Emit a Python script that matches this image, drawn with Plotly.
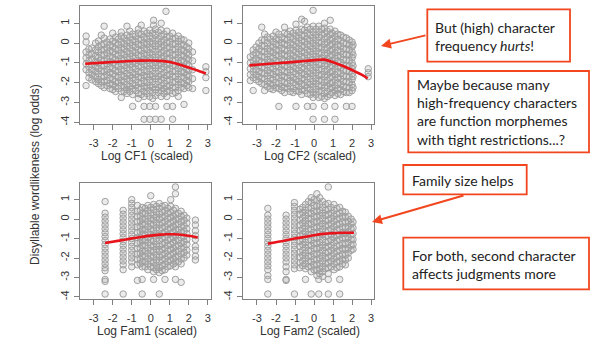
import plotly.graph_objects as go

W, H = 596, 341

# ---------------- data ----------------
# Each panel: x positions of columns of points and the y values in each column
cf1_cols = [-3.4, -3.1, -2.75, -2.45, -2.15, -1.85, -1.55, -1.25, -0.95, -0.65, -0.35, -0.05, 0.15,
            0.25, 0.55, 0.8, 0.85, 1.15, 1.45, 1.75, 2.0, 2.2, 2.9]
cf1_ys = [
    [0.35, 0.05, -0.45, -0.75, -1.05, -1.35, -2.15],
    [-0.25, -0.55, -0.8, -1.1, -1.35, -1.6, -1.85],
    [0.1, -0.2, -0.45, -0.75, -1.0, -1.3, -1.55, -1.85, -2.05],
    [0.85, 0.25, -0.05, -0.35, -0.6, -0.9, -1.15, -1.45, -1.7, -1.95, -2.25],
    [0.2, -0.1, -0.4, -0.65, -0.95, -1.2, -1.5, -1.75, -2.05, -2.3],
    [0.3, 0.0, -0.3, -0.55, -0.85, -1.1, -1.4, -1.65, -1.95, -2.2, -2.45],
    [0.55, 0.35, 0.05, -0.25, -0.5, -0.8, -1.05, -1.35, -1.6, -1.9, -2.15, -2.45, -2.75],
    [0.85, 0.4, 0.1, -0.15, -0.45, -0.7, -1.0, -1.25, -1.55, -1.8, -2.1, -2.35, -2.55],
    [0.45, 0.15, -0.1, -0.4, -0.65, -0.95, -1.2, -1.5, -1.75, -2.05, -2.3, -2.6, -3.2],
    [0.7, 0.5, 0.2, -0.05, -0.35, -0.6, -0.9, -1.15, -1.45, -1.7, -2.0, -2.25, -2.55, -2.8],
    [0.6, 0.3, 0.0, -0.25, -0.55, -0.8, -1.1, -1.35, -1.65, -1.9, -2.2, -2.45, -2.7, -3.2, -3.85],
    [0.65, 0.35, 0.05, -0.2, -0.5, -0.75, -1.05, -1.3, -1.6, -1.85, -2.15, -2.4, -2.7, -3.2, -3.85],
    [1.15, 0.9],
    [0.7, 0.4, 0.1, -0.15, -0.45, -0.7, -1.0, -1.25, -1.55, -1.8, -2.1, -2.35, -2.65, -3.2, -3.85],
    [1.0, 0.65, 0.35, 0.05, -0.2, -0.5, -0.75, -1.05, -1.3, -1.6, -1.85, -2.15, -2.4, -2.7, -3.85],
    [1.6],
    [0.6, 0.3, 0.0, -0.25, -0.55, -0.8, -1.1, -1.35, -1.65, -1.9, -2.2, -2.45, -2.7, -3.2],
    [0.5, 0.2, -0.05, -0.35, -0.6, -0.9, -1.15, -1.45, -1.7, -2.0, -2.25, -2.55, -3.2, -3.85],
    [0.35, 0.1, -0.2, -0.45, -0.75, -1.0, -1.3, -1.55, -1.85, -2.1, -2.4, -2.7],
    [0.15, -0.1, -0.4, -0.65, -0.95, -1.2, -1.5, -1.75, -2.05, -2.3, -3.1],
    [0.0, -0.3, -0.6, -0.85, -1.15, -1.4, -1.7, -1.95, -2.25],
    [-0.45, -0.9, -1.35, -1.8, -2.3],
    [-1.2, -1.45, -1.75, -2.4],
]
cf1_cols_b = [-3.25, -2.9, -2.6, -2.3, -2.0, -1.7, -1.4, -1.1, -0.8, -0.5, -0.2, 0.1, 0.4, 0.7, 1.0, 1.3, 1.6, 1.9]
cf1_ys_b = [
    [-0.3, -0.6, -0.9, -1.2, -1.5, -1.75],
    [0.0, -0.35, -0.65, -0.95, -1.2, -1.45, -1.7, -1.95],
    [0.4, -0.1, -0.35, -0.6, -0.85, -1.15, -1.4, -1.7, -1.95, -2.15],
    [0.05, -0.25, -0.5, -0.8, -1.05, -1.35, -1.6, -1.9, -2.15],
    [0.5, 0.1, -0.2, -0.45, -0.75, -1.0, -1.3, -1.55, -1.85, -2.1, -2.35],
    [0.2, -0.1, -0.35, -0.65, -0.9, -1.2, -1.45, -1.75, -2.0, -2.3],
    [0.25, -0.05, -0.3, -0.6, -0.85, -1.15, -1.4, -1.7, -1.95, -2.25, -2.45],
    [0.6, 0.3, 0.0, -0.25, -0.55, -0.8, -1.1, -1.35, -1.65, -1.9, -2.2, -2.45],
    [0.35, 0.05, -0.2, -0.5, -0.75, -1.05, -1.3, -1.6, -1.85, -2.15, -2.4],
    [0.9, 0.45, 0.15, -0.1, -0.4, -0.65, -0.95, -1.2, -1.5, -1.75, -2.05, -2.3, -2.6],
    [0.5, 0.2, -0.05, -0.35, -0.6, -0.9, -1.15, -1.45, -1.7, -2.0, -2.25, -2.55],
    [0.5, 0.25, -0.05, -0.3, -0.6, -0.85, -1.15, -1.4, -1.7, -1.95, -2.25, -2.5, -2.8],
    [0.55, 0.2, -0.05, -0.3, -0.6, -0.85, -1.15, -1.4, -1.7, -1.95, -2.25, -2.5],
    [0.45, 0.15, -0.1, -0.4, -0.65, -0.95, -1.2, -1.5, -1.75, -2.05, -2.3, -2.55],
    [0.35, 0.05, -0.2, -0.5, -0.75, -1.05, -1.3, -1.6, -1.85, -2.15, -2.4],
    [0.25, -0.05, -0.3, -0.6, -0.85, -1.15, -1.4, -1.7, -1.95, -2.25, -2.5],
    [0.2, -0.05, -0.35, -0.6, -0.9, -1.15, -1.45, -1.7, -2.0, -2.25],
    [-0.2, -0.5, -0.8, -1.05, -1.35, -1.6, -1.9, -2.15],
]

cf2_cols = [-3.35, -3.2, -3.05, -2.75, -2.6, -2.45, -2.15, -1.85, -1.55, -1.25, -0.95, -0.65, -0.35,
            -0.05, 0.25, 0.55, 0.85, 1.1, 1.4, 1.7, 2.0, 2.85]
cf2_ys = [
    [-0.7, -1.0, -1.3, -1.6, -1.9],
    [-0.35, -2.4],
    [-0.2, -0.5, -0.8, -1.05, -1.35, -1.6, -1.85],
    [0.8, 0.15, -0.15, -0.4, -0.7, -0.95, -1.25, -1.5, -1.8, -2.05],
    [-2.4],
    [0.3, 0.0, -0.3, -0.55, -0.85, -1.1, -1.4, -1.65, -1.95, -2.2],
    [0.35, 0.05, -0.2, -0.5, -0.75, -1.05, -1.3, -1.6, -1.85, -2.15, -2.35],
    [0.45, 0.15, -0.1, -0.4, -0.65, -0.95, -1.2, -1.5, -1.75, -2.05, -2.3, -3.2],
    [0.8, 0.5, 0.2, -0.05, -0.35, -0.6, -0.9, -1.15, -1.45, -1.7, -2.0, -2.25, -2.5],
    [0.6, 0.3, 0.0, -0.25, -0.55, -0.8, -1.1, -1.35, -1.65, -1.9, -2.2, -2.45],
    [0.95, 0.65, 0.35, 0.1, -0.2, -0.45, -0.75, -1.0, -1.3, -1.55, -1.85, -2.1, -2.4, -3.2],
    [1.2, 0.7, 0.4, 0.15, -0.15, -0.4, -0.7, -0.95, -1.25, -1.5, -1.8, -2.05, -2.35, -2.6],
    [0.8, 0.5, 0.2, -0.05, -0.35, -0.6, -0.9, -1.15, -1.45, -1.7, -2.0, -2.25, -2.55, -3.2],
    [1.65, 0.85, 0.55, 0.25, 0.0, -0.3, -0.55, -0.85, -1.1, -1.4, -1.65, -1.95, -2.2, -2.5, -2.75, -3.2, -3.85],
    [0.85, 0.55, 0.3, 0.0, -0.25, -0.55, -0.8, -1.1, -1.35, -1.65, -1.9, -2.2, -2.45, -2.75],
    [1.0, 0.75, 0.5, 0.2, -0.05, -0.35, -0.6, -0.9, -1.15, -1.45, -1.7, -2.0, -2.25, -2.55, -2.8, -3.2, -3.85],
    [1.15, 0.7, 0.45, 0.15, -0.1, -0.4, -0.65, -0.95, -1.2, -1.5, -1.75, -2.05, -2.3, -2.6],
    [0.6, 0.35, 0.05, -0.2, -0.5, -0.75, -1.05, -1.3, -1.6, -1.85, -2.15, -2.4, -2.65, -3.2, -3.85],
    [0.4, 0.1, -0.15, -0.45, -0.7, -1.0, -1.25, -1.55, -1.8, -2.1, -2.35, -2.6],
    [0.25, -0.05, -0.3, -0.6, -0.85, -1.15, -1.4, -1.7, -1.95, -2.25, -2.5, -3.2],
    [0.05, -0.2, -0.45, -0.75, -1.0, -1.3, -1.55, -1.85, -2.1, -2.4, -3.2],
    [-1.3, -1.5, -1.7],
]
cf2_cols_b = [-3.2, -2.9, -2.6, -2.3, -2.0, -1.7, -1.4, -1.1, -0.8, -0.5, -0.2, 0.1, 0.4, 0.7, 0.95, 1.25, 1.55, 1.85, 2.05]
cf2_ys_b = [
    [-0.6, -0.9, -1.15, -1.45, -1.75],
    [0.0, -0.3, -0.6, -0.9, -1.15, -1.45, -1.7, -1.95],
    [0.45, 0.15, -0.15, -0.45, -0.7, -1.0, -1.25, -1.55, -1.8, -2.1],
    [0.2, -0.15, -0.4, -0.7, -0.95, -1.25, -1.5, -1.8, -2.05, -2.3],
    [0.55, 0.2, -0.05, -0.35, -0.6, -0.9, -1.15, -1.45, -1.7, -2.0, -2.25],
    [0.3, 0.0, -0.25, -0.55, -0.8, -1.1, -1.35, -1.65, -1.9, -2.2, -2.4],
    [0.45, 0.15, -0.1, -0.4, -0.65, -0.95, -1.2, -1.5, -1.75, -2.05, -2.3],
    [0.5, 0.2, -0.1, -0.35, -0.65, -0.9, -1.2, -1.45, -1.75, -2.0, -2.3, -2.5],
    [0.55, 0.25, 0.0, -0.3, -0.55, -0.85, -1.1, -1.4, -1.65, -1.95, -2.2, -2.45],
    [1.1, 0.65, 0.35, 0.05, -0.2, -0.5, -0.75, -1.05, -1.3, -1.6, -1.85, -2.15, -2.4],
    [0.7, 0.4, 0.1, -0.15, -0.45, -0.7, -1.0, -1.25, -1.55, -1.8, -2.1, -2.35, -2.6],
    [0.7, 0.4, 0.15, -0.15, -0.4, -0.7, -0.95, -1.25, -1.5, -1.8, -2.05, -2.35, -2.6],
    [0.7, 0.4, 0.05, -0.2, -0.5, -0.75, -1.05, -1.3, -1.6, -1.85, -2.15, -2.4, -2.7],
    [0.6, 0.3, 0.05, -0.25, -0.5, -0.8, -1.05, -1.35, -1.6, -1.9, -2.15, -2.45, -2.7],
    [0.5, 0.2, -0.05, -0.35, -0.6, -0.9, -1.15, -1.45, -1.7, -2.0, -2.25, -2.5],
    [0.45, 0.2, -0.1, -0.35, -0.65, -0.9, -1.2, -1.45, -1.75, -2.0, -2.3, -2.55],
    [0.3, 0.0, -0.3, -0.55, -0.85, -1.1, -1.4, -1.65, -1.95, -2.2, -2.45],
    [0.15, -0.1, -0.35, -0.6, -0.9, -1.15, -1.45, -1.7, -2.0, -2.25, -2.5],
    [-0.1, -0.6, -1.15, -1.7, -2.25],
]

fam1_cols = [-2.4, -1.45, -1.0, -0.7, -0.45, -0.15, 0.0, 0.15, 0.45, 0.75, 1.05, 1.3, 1.6, 1.9, 2.35]
fam1_ys = [
    [0.9, 0.3, 0.1, -0.1, -0.3, -0.5, -0.7, -0.9, -1.1, -1.3, -1.5, -1.7, -1.9, -2.1, -2.3, -2.5, -2.65, -3.1, -3.2, -3.85],
    [0.45, 0.25, 0.05, -0.15, -0.35, -0.55, -0.75, -0.95, -1.15, -1.35, -1.55, -1.75, -1.95, -2.15, -2.35, -2.6, -3.85],
    [1.0, 0.8, 0.6, 0.4, 0.2, 0.0, -0.2, -0.4, -0.6, -0.8, -1.0, -1.2, -1.4, -1.6, -1.8, -2.0, -2.2, -2.45],
    [0.7, 0.4, 0.15, -0.15, -0.4, -0.7, -0.95, -1.25, -1.5, -1.8, -2.05, -2.35, -3.15],
    [0.6, 0.3, 0.0, -0.25, -0.55, -0.8, -1.1, -1.35, -1.65, -1.9, -2.2, -2.45, -3.1, -3.85],
    [0.7, 0.45, 0.15, -0.1, -0.4, -0.65, -0.95, -1.2, -1.5, -1.75, -2.05, -2.3, -2.6],
    [1.2, 0.6, 0.3, 0.05, -0.25, -0.5, -0.8, -1.05, -1.35, -1.6, -1.9, -2.15, -2.45],
    [0.75, 0.5, 0.2, -0.05, -0.3, -0.6, -0.85, -1.15, -1.4, -1.7, -1.95, -2.25, -2.5, -2.7, -3.1],
    [0.8, 0.55, 0.25, 0.0, -0.3, -0.55, -0.85, -1.1, -1.4, -1.65, -1.95, -2.2, -2.5, -2.75, -3.85],
    [0.7, 0.45, 0.15, -0.1, -0.4, -0.65, -0.95, -1.2, -1.5, -1.75, -2.05, -2.3, -2.6, -3.1],
    [1.0, 0.65, 0.35, 0.1, -0.2, -0.45, -0.75, -1.0, -1.3, -1.55, -1.85, -2.1, -2.4],
    [1.65, 1.3, 0.55, 0.25, 0.0, -0.3, -0.55, -0.85, -1.1, -1.4, -1.65, -1.95, -2.2, -2.45, -3.1],
    [0.4, 0.15, -0.15, -0.4, -0.7, -0.95, -1.25, -1.5, -1.8, -2.05, -2.3, -3.25],
    [0.05, -0.2, -0.5, -0.75, -1.05, -1.3, -1.6, -1.85],
    [-0.05, -0.3, -0.6, -0.85, -1.05, -1.4, -1.6, -1.9, -2.1],
]
fam1_cols_b = [-0.55, -0.3, 0.3, 0.6, 0.9, 1.2, 1.45, 1.75]
fam1_ys_b = [
    [0.45, 0.15, -0.1, -0.4, -0.65, -0.95, -1.2, -1.5, -1.75, -2.05, -2.3],
    [0.55, 0.3, 0.0, -0.25, -0.55, -0.8, -1.1, -1.35, -1.65, -1.9, -2.2, -2.45],
    [0.65, 0.35, 0.1, -0.2, -0.45, -0.75, -1.0, -1.3, -1.55, -1.85, -2.1, -2.4, -2.6],
    [0.65, 0.35, 0.1, -0.2, -0.45, -0.75, -1.0, -1.3, -1.55, -1.85, -2.1, -2.4, -2.65],
    [0.55, 0.3, 0.0, -0.25, -0.55, -0.8, -1.1, -1.35, -1.65, -1.9, -2.2, -2.45],
    [0.45, 0.15, -0.1, -0.4, -0.65, -0.95, -1.2, -1.5, -1.75, -2.05, -2.3],
    [0.3, 0.0, -0.25, -0.55, -0.8, -1.1, -1.35, -1.65, -1.9, -2.2],
    [0.2, -0.05, -0.35, -0.6, -0.9, -1.15, -1.45, -1.7, -2.0],
]

fam2_cols = [-2.43, -1.47, -1.03, -0.75, -0.45, -0.15, 0.15, 0.25, 0.45, 0.75, 1.05, 1.35, 1.65, 1.95]
fam2_ys = [
    [0.55, 0.2, 0.0, -0.2, -0.4, -0.6, -0.8, -1.0, -1.2, -1.4, -1.6, -1.8, -2.0, -2.2, -2.4, -2.6, -2.9, -3.1, -3.85],
    [0.2, 0.0, -0.2, -0.4, -0.6, -0.8, -1.0, -1.2, -1.4, -1.6, -1.8, -2.0, -2.2, -2.45, -2.7, -3.1, -3.15],
    [0.85, 0.65, 0.45, 0.25, 0.05, -0.15, -0.35, -0.55, -0.75, -0.95, -1.15, -1.35, -1.55, -1.75, -1.95, -2.15, -2.35, -2.55, -3.85],
    [0.5, 0.25, -0.05, -0.3, -0.6, -0.85, -1.15, -1.4, -1.7, -1.95, -2.25, -2.5],
    [0.75, 0.45, 0.2, -0.1, -0.35, -0.65, -0.9, -1.2, -1.45, -1.75, -2.0, -2.3, -2.55, -3.1],
    [1.1, 0.85, 0.55, 0.3, 0.0, -0.25, -0.55, -0.8, -1.1, -1.35, -1.65, -1.9, -2.2, -2.45, -2.7, -3.85],
    [1.3, 0.95, 0.65, 0.4, 0.1, -0.15, -0.45, -0.7, -1.0, -1.25, -1.55, -1.8, -2.1, -2.35, -2.65, -2.9],
    [-3.1, -3.85],
    [0.9, 0.6, 0.3, 0.05, -0.25, -0.5, -0.8, -1.05, -1.35, -1.6, -1.9, -2.15, -2.45, -2.7, -2.95],
    [1.65, 0.8, 0.5, 0.25, -0.05, -0.3, -0.6, -0.85, -1.15, -1.4, -1.7, -1.95, -2.25, -2.5, -2.8, -3.1, -3.85],
    [0.75, 0.45, 0.15, -0.1, -0.4, -0.65, -0.95, -1.2, -1.5, -1.75, -2.05, -2.3, -2.6],
    [0.6, 0.3, 0.05, -0.25, -0.5, -0.8, -1.05, -1.35, -1.6, -1.9, -2.15, -2.45, -3.1, -3.85],
    [0.35, 0.1, -0.2, -0.45, -0.75, -1.0, -1.3, -1.55, -1.85, -2.1, -2.35],
    [0.0, -0.25, -0.5, -0.8, -1.05, -1.35, -1.6],
]
fam2_cols_b = [-0.6, -0.3, 0.0, 0.3, 0.6, 0.9, 1.2, 1.5, 1.8, 2.05]
fam2_ys_b = [
    [0.6, 0.35, 0.05, -0.2, -0.5, -0.75, -1.05, -1.3, -1.6, -1.85, -2.15, -2.4],
    [0.9, 0.6, 0.3, 0.05, -0.25, -0.5, -0.8, -1.05, -1.35, -1.6, -1.9, -2.15, -2.45],
    [1.0, 0.7, 0.4, 0.15, -0.15, -0.4, -0.7, -0.95, -1.25, -1.5, -1.8, -2.05, -2.35, -2.6],
    [1.1, 0.75, 0.45, 0.2, -0.1, -0.35, -0.65, -0.9, -1.2, -1.45, -1.75, -2.0, -2.3, -2.55, -2.8],
    [0.75, 0.45, 0.2, -0.1, -0.35, -0.65, -0.9, -1.2, -1.45, -1.75, -2.0, -2.3, -2.55],
    [0.6, 0.3, 0.05, -0.25, -0.5, -0.8, -1.05, -1.35, -1.6, -1.9, -2.15, -2.45],
    [0.55, 0.25, 0.0, -0.3, -0.55, -0.85, -1.1, -1.4, -1.65, -1.95, -2.2, -2.5],
    [0.4, 0.15, -0.15, -0.4, -0.7, -0.95, -1.25, -1.5, -1.8, -2.05, -2.3],
    [0.15, -0.1, -0.4, -0.65, -0.95, -1.2, -1.5, -1.75, -2.0],
    [-0.15, -0.45, -0.75, -1.05, -1.3, -1.55],
]

# smoothed (loess) curves
cf1_fit_x = [-3.45, -2.5, -1.5, -0.5, 0.0, 0.5, 1.0, 1.5, 2.0, 2.5, 2.9]
cf1_fit_y = [-1.05, -0.99, -0.93, -0.89, -0.88, -0.9, -0.96, -1.08, -1.24, -1.4, -1.54]
cf2_fit_x = [-3.4, -2.5, -1.5, -0.5, 0.2, 0.55, 1.0, 1.5, 2.0, 2.5, 2.82]
cf2_fit_y = [-1.13, -1.06, -0.99, -0.91, -0.85, -0.84, -0.97, -1.15, -1.36, -1.6, -1.79]
fam1_fit_x = [-2.4, -1.5, -1.0, -0.5, 0.0, 0.5, 0.8, 1.2, 1.6, 2.0, 2.47]
fam1_fit_y = [-1.23, -1.08, -0.99, -0.92, -0.85, -0.8, -0.78, -0.78, -0.8, -0.86, -0.95]
fam2_fit_x = [-2.43, -1.5, -1.0, -0.5, 0.0, 0.5, 1.0, 1.5, 2.1]
fam2_fit_y = [-1.26, -1.1, -1.0, -0.92, -0.83, -0.76, -0.72, -0.7, -0.7]

x_titles = ["Log CF1 (scaled)", "Log CF2 (scaled)", "Log Fam1 (scaled)", "Log Fam2 (scaled)"]
y_title = "Disyllable wordlikeness (log odds)"
x_ticks = [-3, -2, -1, 0, 1, 2, 3]
y_ticks = [-4, -3, -2, -1, 0, 1]

notes = [
    "But (high) character<br>frequency <i>hurts</i>!",
    "Maybe because many<br>high-frequency characters<br>are function morphemes<br>with tight restrictions...?",
    "Family size helps",
    "For both, second character<br>affects judgments more",
]

# ---------------- figure ----------------
def px(x):
    return x / W

def py(y):
    return 1 - y / H

panels = [
    (cf1_cols + cf1_cols_b, cf1_ys + cf1_ys_b, cf1_fit_x, cf1_fit_y),
    (cf2_cols + cf2_cols_b, cf2_ys + cf2_ys_b, cf2_fit_x, cf2_fit_y),
    (fam1_cols + fam1_cols_b, fam1_ys + fam1_ys_b, fam1_fit_x, fam1_fit_y),
    (fam2_cols + fam2_cols_b, fam2_ys + fam2_ys_b, fam2_fit_x, fam2_fit_y),
]
# pixel boxes: (left, right, top, bottom)
boxes = [(80, 211, 6, 124), (243.3, 374.3, 6, 124), (80, 211, 182.7, 298.7), (243.3, 374.3, 182.7, 298.7)]

GRAY = "#a0a0a0"
FILL = "rgba(165,165,165,0.22)"
RED = "#e8141c"
ORANGE = "#f2461f"
AXC = "#808080"
TXT = "#333333"

fig = go.Figure()
layout = dict(
    width=W, height=H,
    margin=dict(l=0, r=0, t=0, b=0),
    paper_bgcolor="white", plot_bgcolor="white",
    showlegend=False,
)

annotations = []
shapes = []
for i, (cols, ys, fx, fy) in enumerate(panels):
    n = "" if i == 0 else str(i + 1)
    xs, yv = [], []
    for c, col in zip(cols, ys):
        for v in col:
            xs.append(c)
            yv.append(v)
    fig.add_trace(go.Scatter(
        x=xs, y=yv, mode="markers", xaxis="x" + n, yaxis="y" + n,
        marker=dict(symbol="circle", size=6.5, color=FILL, line=dict(width=1, color=GRAY)),
        hoverinfo="skip"))
    fig.add_trace(go.Scatter(
        x=fx, y=fy, mode="lines", xaxis="x" + n, yaxis="y" + n,
        line=dict(color=RED, width=2.6, shape="spline", smoothing=0.6), hoverinfo="skip"))
    l, r, t, b = boxes[i]
    layout["xaxis" + n] = dict(
        domain=[px(l), px(r)], anchor="y" + n, range=[-3.72, 3.17],
        tickvals=x_ticks, ticktext=[str(v) for v in x_ticks],
        showline=True, mirror=True, linecolor=AXC, linewidth=1,
        ticks="outside", ticklen=5, tickcolor=AXC, tickwidth=1,
        showgrid=False, zeroline=False, ticklabelstandoff=4,
        tickfont=dict(family="Liberation Sans, Arial", size=11, color=TXT))
    layout["yaxis" + n] = dict(
        domain=[py(b), py(t)], anchor="x" + n, range=[-4.09, 1.87],
        tickvals=y_ticks, ticktext=[str(v) for v in y_ticks], tickangle=-90,
        showline=True, mirror=True, linecolor=AXC, linewidth=1,
        ticks="outside", ticklen=5, tickcolor=AXC, tickwidth=1,
        showgrid=False, zeroline=False, ticklabelstandoff=1,
        tickfont=dict(family="Liberation Sans, Arial", size=11, color=TXT))
    annotations.append(dict(
        text=x_titles[i], x=px((l + r) / 2 + 1), y=py(b + 32), xref="paper", yref="paper",
        xanchor="center", yanchor="middle", showarrow=False,
        font=dict(family="Liberation Sans, Arial", size=12, color=TXT)))

annotations.append(dict(
    text=y_title, x=px(35), y=py(175), xref="paper", yref="paper", textangle=-90,
    xanchor="center", yanchor="middle", showarrow=False,
    font=dict(family="Liberation Sans, Arial", size=12, color=TXT)))

# note boxes: (left, right, top, bottom) and text anchor (x, y)
note_boxes = [(427.3, 570, 9.3, 61.7), (408.3, 589, 71, 152.3), (403.3, 526.7, 165, 194.3), (403.3, 589, 237.7, 289.3)]
note_anchor = [(433, 36), (415, 112), (410, 180), (410, 264.5)]
for (l, r, t, b), (ax_, ay_), txt in zip(note_boxes, note_anchor, notes):
    shapes.append(dict(type="rect", xref="paper", yref="paper",
                       x0=px(l), x1=px(r), y0=py(b), y1=py(t),
                       line=dict(color=ORANGE, width=1.8), fillcolor="white", layer="above"))
    annotations.append(dict(
        text=txt, x=px(ax_), y=py(ay_), xref="paper", yref="paper",
        xanchor="left", yanchor="middle", align="left", showarrow=False,
        font=dict(family="Lato, Noto Sans", size=14, color="#222222")))

# arrows: head (x, y) and tail offset in pixels
arrows = [((381, 46), (46, -11)), ((372, 222), (93, -27))]
for (hx, hy), (dx, dy) in arrows:
    annotations.append(dict(
        text="", x=px(hx), y=py(hy), xref="paper", yref="paper",
        ax=dx, ay=dy, axref="pixel", ayref="pixel", showarrow=True,
        arrowhead=2, arrowsize=1, arrowwidth=2, arrowcolor=ORANGE, standoff=0))

layout["annotations"] = annotations
layout["shapes"] = shapes
fig.update_layout(**layout)
fig.write_html("out.html", config={"displayModeBar": False},
               post_script="document.body.style.margin='0px';")
